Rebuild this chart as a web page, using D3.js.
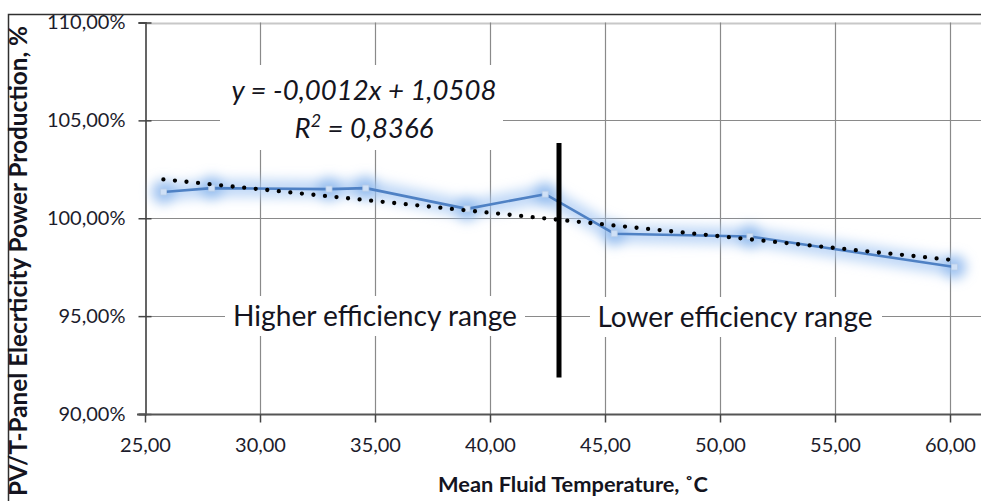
<!DOCTYPE html>
<html>
<head>
<meta charset="utf-8">
<script src="https://cdn.jsdelivr.net/npm/d3@7"></script>
<style>
  html, body { margin: 0; padding: 0; background: #fff; }
  svg { display: block; }
</style>
</head>
<body>
<svg id="chart" width="981" height="501"></svg>
<script>
// ---- data ----
const temperature = [25.8, 27.9, 33.0, 34.6, 39.0, 42.4, 45.4, 51.3, 60.2];
const production  = [101.34, 101.54, 101.49, 101.54, 100.48, 101.23, 99.21, 99.07, 97.51];
const xTicks = [25, 30, 35, 40, 45, 50, 55, 60];
const yTicks = [90, 95, 100, 105, 110];
const trendSlope = -0.12;      // % per °C  (y = -0,0012x + 1,0508)
const trendIntercept = 105.08;
const dividerX = 43.0;
const dividerY = [91.86, 103.85];
const equationText = "y = -0,0012x + 1,0508";
const r2Text = "0,8366";
const xTitle = "Mean Fluid Temperature, \u02DAC";
const yTitle = "PV/T-Panel Elecrticity Power Production, %";
const rangeLabels = ["Higher efficiency range", "Lower efficiency range"];

const fmt = v => v.toFixed(2).replace(".", ",");

const svg = d3.select("#chart");
const font = "Lato, 'Open Sans', sans-serif";

const x = d3.scaleLinear().domain([25, 62]).range([145, 996]);
const y = d3.scaleLinear().domain([90, 110]).range([414, 22.5]);

// outer frame
svg.append("path")
  .attr("d", "M8.5,501 L8.5,14.5 L981,14.5")
  .attr("fill", "none").attr("stroke", "#303030").attr("stroke-width", 1.5);

// grid
const grid = svg.append("g");
grid.selectAll(".hg").data(yTicks.filter(d => d !== 90)).join("line")
  .attr("x1", x(25)).attr("x2", 981)
  .attr("y1", d => Math.round(y(d)) + 0.5).attr("y2", d => Math.round(y(d)) + 0.5)
  .attr("stroke", d => d === 110 ? "#c8c8c8" : "#8a8a8a").attr("stroke-width", d => d === 110 ? 2 : 1.2);
grid.selectAll(".vg").data(xTicks.filter(d => d !== 25)).join("line")
  .attr("y1", y(110)).attr("y2", y(90))
  .attr("x1", d => Math.round(x(d)) + 0.5).attr("x2", d => Math.round(x(d)) + 0.5)
  .attr("stroke", "#8a8a8a").attr("stroke-width", 1.2);

// axes
const yAxis = d3.axisLeft(y).tickValues(yTicks).tickSize(7).tickPadding(13)
  .tickFormat(d => fmt(d) + "%");
const gy = svg.append("g").attr("transform", `translate(${Math.round(x(25)) + 0.5},0)`).call(yAxis);
const xAxis = d3.axisBottom(x).tickValues(xTicks).tickSize(8).tickPadding(15)
  .tickFormat(fmt);
const gx = svg.append("g").attr("transform", `translate(0,${Math.round(y(90)) + 0.5})`).call(xAxis);
gx.select(".domain").attr("d", `M${x(25) - 8},0 H981`);
[gx, gy].forEach(g => {
  g.select(".domain").attr("stroke", "#555").attr("stroke-width", 1.8);
  g.selectAll(".tick line").attr("stroke", "#444").attr("stroke-width", 1.5);
  g.selectAll(".tick text").attr("fill", "#1c1c2c").attr("font-family", font).attr("font-size", 20);
});
gy.selectAll(".tick line").attr("x2", 6).attr("x1", -7);

// glow filter
const defs = svg.append("defs");
defs.append("filter").attr("id", "glow").attr("x", "-20%").attr("y", "-60%").attr("width", "140%").attr("height", "220%")
  .append("feGaussianBlur").attr("stdDeviation", 6);

const pts = temperature.map((t, i) => [t, production[i]]);
const line = d3.line().x(d => x(d[0])).y(d => y(d[1]));

const glowG = svg.append("g").attr("filter", "url(#glow)");
glowG.append("path").datum(pts).attr("d", line)
  .attr("fill", "none").attr("stroke", "#a6c9f3").attr("stroke-width", 18).attr("opacity", 0.7)
  .attr("stroke-linejoin", "round");
glowG.selectAll("circle").data(pts).join("circle")
  .attr("cx", d => x(d[0])).attr("cy", d => y(d[1])).attr("r", 12)
  .attr("fill", "#8db8ee").attr("opacity", 0.8);

svg.append("path").datum(pts).attr("d", line)
  .attr("fill", "none").attr("stroke", "#4f81c4").attr("stroke-width", 2.6)
  .attr("stroke-linejoin", "round");
svg.selectAll(".mk").data(pts).join("rect")
  .attr("x", d => x(d[0]) - 3).attr("y", d => y(d[1]) - 3).attr("width", 6).attr("height", 6)
  .attr("fill", "#cfe0f6").attr("stroke", "#b8cde8").attr("stroke-width", 0.8);

// trend line
const t0 = d3.min(temperature), t1 = d3.max(temperature);
svg.append("line")
  .attr("x1", x(t0)).attr("y1", y(trendIntercept + trendSlope * t0))
  .attr("x2", x(t1)).attr("y2", y(trendIntercept + trendSlope * t1))
  .attr("stroke", "#000").attr("stroke-width", 4.3)
  .attr("stroke-dasharray", "0 11.6").attr("stroke-linecap", "round");

// divider
svg.append("line")
  .attr("x1", x(dividerX)).attr("x2", x(dividerX))
  .attr("y1", y(dividerY[1])).attr("y2", y(dividerY[0]))
  .attr("stroke", "#000").attr("stroke-width", 5);

// helper: text with white box, fitted to width
function boxedText(str, cx, baseline, targetW, size, opts = {}) {
  const g = svg.append("g");
  const r = g.append("rect").attr("fill", "#fff");
  const t = g.append("text").attr("x", cx).attr("y", baseline).attr("text-anchor", "middle")
    .attr("font-family", font).attr("font-size", size).attr("fill", "#141420")
    .attr("font-style", opts.italic ? "italic" : null).text(str);
  const w = t.node().getComputedTextLength();
  const s = size * targetW / w;
  t.attr("font-size", s);
  return { g, r, t };
}

// range labels
const hi = boxedText(rangeLabels[0], 375, 326, 284, 26);
hi.r.attr("x", 225).attr("y", 296).attr("width", 300).attr("height", 40);
const lo = boxedText(rangeLabels[1], 735, 327, 275, 26);
lo.r.attr("x", 590).attr("y", 297).attr("width", 292).attr("height", 40);

// equation box
const eqG = svg.append("g");
eqG.append("rect").attr("x", 220).attr("y", 65).attr("width", 283).attr("height", 85).attr("fill", "#fff");
const eq = eqG.append("text").attr("x", 364).attr("y", 100).attr("text-anchor", "middle")
  .attr("font-family", font).attr("font-style", "italic").attr("font-size", 24).attr("fill", "#141420")
  .text(equationText);
const eqW = eq.node().getComputedTextLength();
const eqSize = 24 * 265 / eqW;
eq.attr("font-size", eqSize);
const r2 = eqG.append("text").attr("x", 364).attr("y", 138).attr("text-anchor", "middle")
  .attr("font-family", font).attr("font-style", "italic").attr("font-size", eqSize).attr("fill", "#141420");
r2.append("tspan").text("R");
r2.append("tspan").attr("baseline-shift", "super").attr("font-size", eqSize * 0.65).text("2");
r2.append("tspan").text(" = " + r2Text);

// axis titles
const xt = svg.append("text").attr("x", 573).attr("y", 492).attr("text-anchor", "middle")
  .attr("font-family", font).attr("font-weight", "bold").attr("font-size", 18).attr("fill", "#141420")
  .text(xTitle);
const xtw = xt.node().getComputedTextLength();
xt.attr("font-size", 18 * 270 / xtw);

const yt = svg.append("text").attr("transform", "translate(27,26) rotate(-90)").attr("text-anchor", "end")
  .attr("font-family", font).attr("font-weight", "bold").attr("font-size", 18).attr("fill", "#141420")
  .text(yTitle);
const ytw = yt.node().getComputedTextLength();
yt.attr("font-size", 18 * 470 / ytw);
</script>
</body>
</html>
